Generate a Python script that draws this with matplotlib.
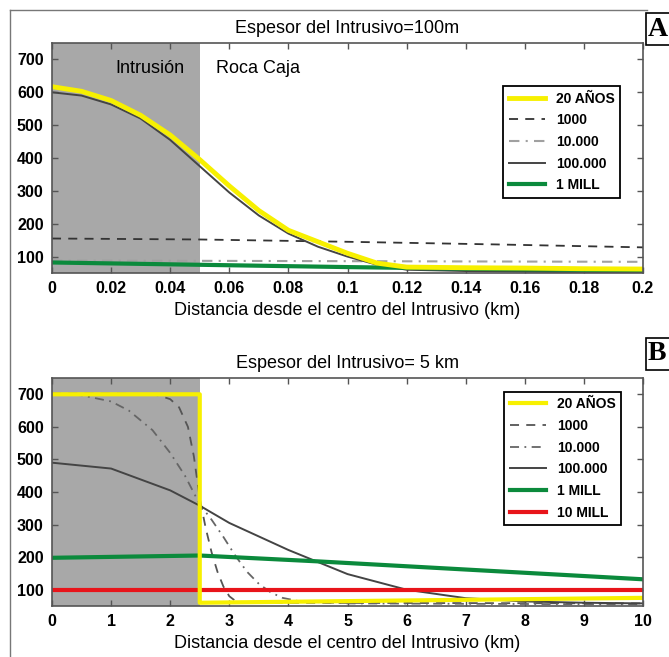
import matplotlib.pyplot as plt
from matplotlib.lines import Line2D
from matplotlib.patches import Rectangle

plt.rcParams["font.family"] = ["Liberation Sans Narrow", "Liberation Sans", "DejaVu Sans"]

# Panel A: intrusive 100 m thick
x_a = [0, 0.01, 0.02, 0.03, 0.04, 0.05, 0.06, 0.07, 0.08, 0.09, 0.1, 0.11, 0.12, 0.14, 0.16, 0.18, 0.2]
a_20 = [617, 603, 575, 530, 470, 395, 315, 240, 180, 145, 110, 80, 68, 66, 65, 63, 62]
a_100k = [600, 590, 563, 520, 455, 375, 295, 225, 170, 130, 100, 75, 60, 56, 54, 52, 50]
x_a_flat = [0, 0.05, 0.1, 0.15, 0.2]
a_1000 = [155, 152, 145, 137, 128]
a_10k = [88, 87, 86, 85, 84]
a_1m = [82, 75, 68, 62, 58]

# Panel B: intrusive 5 km thick
x_b_20 = [0, 2.5, 2.5, 10]
b_20 = [700, 700, 60, 75]
x_b_1000 = [0, 1.0, 1.5, 1.8, 2.0, 2.15, 2.3, 2.4, 2.5, 2.6, 2.7, 2.8, 2.9, 3.0, 3.1, 3.3, 10]
b_1000 = [702, 702, 701, 697, 685, 660, 600, 510, 380, 290, 215, 155, 110, 80, 66, 60, 58]
x_b_10k = [0, 0.5, 1.0, 1.3, 1.7, 2.0, 2.25, 2.5, 2.7, 2.9, 3.1, 3.3, 3.5, 3.7, 3.9, 4.2, 5, 10]
b_10k = [702, 697, 678, 650, 590, 520, 450, 362, 315, 262, 205, 155, 118, 92, 75, 64, 58, 55]
x_b_100k = [0, 1, 2, 2.5, 3, 4, 5, 6, 7, 8, 9, 10]
b_100k = [490, 472, 405, 358, 305, 222, 148, 100, 74, 64, 60, 58]
x_b_1m = [0, 2.5, 4.5, 7, 10]
b_1m = [198, 205, 187, 162, 132]
x_b_10m = [0, 10]
b_10m = [100, 100]

yticks = [100, 200, 300, 400, 500, 600, 700]
xticks_a = [0, 0.02, 0.04, 0.06, 0.08, 0.1, 0.12, 0.14, 0.16, 0.18, 0.2]
xlabels_a = ["0", "0.02", "0.04", "0.06", "0.08", "0.1", "0.12", "0.14", "0.16", "0.18", "0.2"]
xticks_b = [0, 1, 2, 3, 4, 5, 6, 7, 8, 9, 10]

YELLOW = "#f7f000"
GREEN = "#0b8a3c"
RED = "#e8141a"
SHADE = "#a8a8a8"

fig = plt.figure(figsize=(6.69, 6.57), dpi=100)

# outer frame lines (left and top)
fig.add_artist(Line2D([10 / 669, 10 / 669], [0, 1 - 10 / 657], color="#777777", lw=1))
fig.add_artist(Line2D([10 / 669, 647 / 669], [1 - 10 / 657, 1 - 10 / 657], color="#777777", lw=1))


def style_axes(ax, xlim, xticks, xlabels):
    ax.set_xlim(xlim)
    ax.set_ylim(50, 750)
    ax.set_xticks(xticks)
    ax.set_xticklabels(xlabels)
    ax.set_yticks(yticks)
    ax.tick_params(direction="in", top=True, right=True, length=4, width=1,
                   labelsize=11.5, color="#555555", pad=6)
    for lab in ax.get_xticklabels() + ax.get_yticklabels():
        lab.set_fontweight("bold")
    for sp in ax.spines.values():
        sp.set_color("#555555")
        sp.set_linewidth(1.2)
    ax.set_xlabel("Distancia desde el centro del Intrusivo (km)", fontsize=13, labelpad=4)


def panel_label(letter, y0):
    fig.add_artist(Rectangle((646 / 669, 1 - (y0 + 32) / 657), 30 / 669, 32 / 657,
                             facecolor="white", edgecolor="black", lw=1.2))
    fig.text(648 / 669, 1 - (y0 + 16) / 657, letter, fontsize=20, fontweight="bold",
             family="Liberation Serif", ha="left", va="center")


# ---- Panel A ----
ax1 = fig.add_axes([52 / 669, 1 - 273 / 657, 591 / 669, 230 / 657])
ax1.axvspan(0, 0.05, color=SHADE, zorder=0, lw=0)
ax1.plot(x_a_flat, a_1000, color="#333333", ls=(0, (5, 4)), lw=1.3, label="1000")
ax1.plot(x_a_flat, a_10k, color="#a0a0a0", ls=(0, (5, 3, 1, 3)), lw=1.5, label="10.000")
ax1.plot(x_a, a_100k, color="#444444", lw=1.4, label="100.000")
ax1.plot(x_a_flat, a_1m, color=GREEN, lw=3, label="1 MILL")
ax1.plot(x_a, a_20, color=YELLOW, lw=3.5, label="20 AÑOS")
style_axes(ax1, (0, 0.2), xticks_a, xlabels_a)
ax1.set_title("Espesor del Intrusivo=100m", fontsize=13, pad=7)
ax1.text(0.033, 672, "Intrusión", fontsize=13, ha="center", va="center")
ax1.text(0.0555, 672, "Roca Caja", fontsize=13, ha="left", va="center")
h, l = ax1.get_legend_handles_labels()
order = [4, 0, 1, 2, 3]
leg1 = ax1.legend([h[i] for i in order], [l[i] for i in order], loc="upper right",
                  bbox_to_anchor=(0.973, 0.843), fancybox=False, edgecolor="black",
                  framealpha=1, handlelength=2.6, labelspacing=0.55,
                  prop={"family": "Liberation Sans", "weight": "bold", "size": 10})
leg1.get_frame().set_linewidth(1.3)
panel_label("A", 13)

# ---- Panel B ----
ax2 = fig.add_axes([52 / 669, 1 - 606 / 657, 591 / 669, 228 / 657])
ax2.axvspan(0, 2.5, color=SHADE, zorder=0, lw=0)
ax2.plot(x_b_1000, b_1000, color="#555555", ls=(0, (5, 4)), lw=1.3, label="1000")
ax2.plot(x_b_10k, b_10k, color="#666666", ls=(0, (5, 3, 1, 3)), lw=1.3, label="10.000")
ax2.plot(x_b_100k, b_100k, color="#444444", lw=1.4, label="100.000")
ax2.plot(x_b_1m, b_1m, color=GREEN, lw=3, label="1 MILL")
ax2.plot(x_b_10m, b_10m, color=RED, lw=3, label="10 MILL")
ax2.plot(x_b_20, b_20, color=YELLOW, lw=3, label="20 AÑOS")
style_axes(ax2, (0, 10), xticks_b, [str(t) for t in xticks_b])
ax2.set_title("Espesor del Intrusivo= 5 km", fontsize=13, pad=7)
h, l = ax2.get_legend_handles_labels()
order = [5, 0, 1, 2, 3, 4]
leg2 = ax2.legend([h[i] for i in order], [l[i] for i in order], loc="upper right",
                  bbox_to_anchor=(0.975, 0.97), fancybox=False, edgecolor="black",
                  framealpha=1, handlelength=2.6, labelspacing=0.55,
                  prop={"family": "Liberation Sans", "weight": "bold", "size": 10})
leg2.get_frame().set_linewidth(1.3)
panel_label("B", 338)

fig.savefig("out.png", dpi=100)
